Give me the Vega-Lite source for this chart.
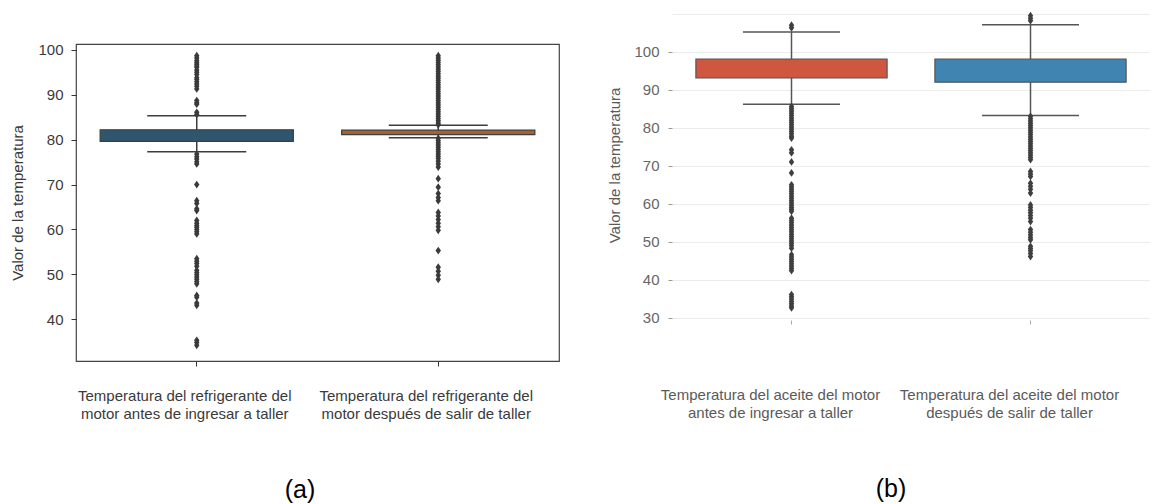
{
  "$schema": "https://vega.github.io/schema/vega-lite/v6.json",
  "background": "white",
  "padding": {"left": 10, "top": 10, "right": 0, "bottom": 0},
  "autosize": {"type": "pad"},
  "spacing": 47,
  "resolve": {"scale": {"color": "independent"}},
  "config": {"font": "Liberation Sans", "view": {"stroke": null}},
  "datasets": {
    "boxA": [
      {"cat": "Temperatura del refrigerante del|motor antes de ingresar a taller", "q1": 79.6, "q3": 82.2, "lo": 77.3, "hi": 85.3},
      {"cat": "Temperatura del refrigerante del|motor después de salir de taller", "q1": 81.1, "q3": 82.1, "lo": 80.4, "hi": 83.2}
    ],
    "outA": [
      {"cat": "Temperatura del refrigerante del|motor antes de ingresar a taller", "value": 98.7},
      {"cat": "Temperatura del refrigerante del|motor antes de ingresar a taller", "value": 98.2},
      {"cat": "Temperatura del refrigerante del|motor antes de ingresar a taller", "value": 97.6},
      {"cat": "Temperatura del refrigerante del|motor antes de ingresar a taller", "value": 97.2},
      {"cat": "Temperatura del refrigerante del|motor antes de ingresar a taller", "value": 96.8},
      {"cat": "Temperatura del refrigerante del|motor antes de ingresar a taller", "value": 96.4},
      {"cat": "Temperatura del refrigerante del|motor antes de ingresar a taller", "value": 96.1},
      {"cat": "Temperatura del refrigerante del|motor antes de ingresar a taller", "value": 95.5},
      {"cat": "Temperatura del refrigerante del|motor antes de ingresar a taller", "value": 95.0},
      {"cat": "Temperatura del refrigerante del|motor antes de ingresar a taller", "value": 94.5},
      {"cat": "Temperatura del refrigerante del|motor antes de ingresar a taller", "value": 93.8},
      {"cat": "Temperatura del refrigerante del|motor antes de ingresar a taller", "value": 93.4},
      {"cat": "Temperatura del refrigerante del|motor antes de ingresar a taller", "value": 92.9},
      {"cat": "Temperatura del refrigerante del|motor antes de ingresar a taller", "value": 92.4},
      {"cat": "Temperatura del refrigerante del|motor antes de ingresar a taller", "value": 91.9},
      {"cat": "Temperatura del refrigerante del|motor antes de ingresar a taller", "value": 91.3},
      {"cat": "Temperatura del refrigerante del|motor antes de ingresar a taller", "value": 88.7},
      {"cat": "Temperatura del refrigerante del|motor antes de ingresar a taller", "value": 88.2},
      {"cat": "Temperatura del refrigerante del|motor antes de ingresar a taller", "value": 87.9},
      {"cat": "Temperatura del refrigerante del|motor antes de ingresar a taller", "value": 86.1},
      {"cat": "Temperatura del refrigerante del|motor antes de ingresar a taller", "value": 85.6},
      {"cat": "Temperatura del refrigerante del|motor antes de ingresar a taller", "value": 76.8},
      {"cat": "Temperatura del refrigerante del|motor antes de ingresar a taller", "value": 76.2},
      {"cat": "Temperatura del refrigerante del|motor antes de ingresar a taller", "value": 75.7},
      {"cat": "Temperatura del refrigerante del|motor antes de ingresar a taller", "value": 75.1},
      {"cat": "Temperatura del refrigerante del|motor antes de ingresar a taller", "value": 74.6},
      {"cat": "Temperatura del refrigerante del|motor antes de ingresar a taller", "value": 70.0},
      {"cat": "Temperatura del refrigerante del|motor antes de ingresar a taller", "value": 66.4},
      {"cat": "Temperatura del refrigerante del|motor antes de ingresar a taller", "value": 65.8},
      {"cat": "Temperatura del refrigerante del|motor antes de ingresar a taller", "value": 64.6},
      {"cat": "Temperatura del refrigerante del|motor antes de ingresar a taller", "value": 64.2},
      {"cat": "Temperatura del refrigerante del|motor antes de ingresar a taller", "value": 62.0},
      {"cat": "Temperatura del refrigerante del|motor antes de ingresar a taller", "value": 61.4},
      {"cat": "Temperatura del refrigerante del|motor antes de ingresar a taller", "value": 60.9},
      {"cat": "Temperatura del refrigerante del|motor antes de ingresar a taller", "value": 60.5},
      {"cat": "Temperatura del refrigerante del|motor antes de ingresar a taller", "value": 60.0},
      {"cat": "Temperatura del refrigerante del|motor antes de ingresar a taller", "value": 59.5},
      {"cat": "Temperatura del refrigerante del|motor antes de ingresar a taller", "value": 59.0},
      {"cat": "Temperatura del refrigerante del|motor antes de ingresar a taller", "value": 53.5},
      {"cat": "Temperatura del refrigerante del|motor antes de ingresar a taller", "value": 52.9},
      {"cat": "Temperatura del refrigerante del|motor antes de ingresar a taller", "value": 52.4},
      {"cat": "Temperatura del refrigerante del|motor antes de ingresar a taller", "value": 51.8},
      {"cat": "Temperatura del refrigerante del|motor antes de ingresar a taller", "value": 50.9},
      {"cat": "Temperatura del refrigerante del|motor antes de ingresar a taller", "value": 50.4},
      {"cat": "Temperatura del refrigerante del|motor antes de ingresar a taller", "value": 49.9},
      {"cat": "Temperatura del refrigerante del|motor antes de ingresar a taller", "value": 49.4},
      {"cat": "Temperatura del refrigerante del|motor antes de ingresar a taller", "value": 48.9},
      {"cat": "Temperatura del refrigerante del|motor antes de ingresar a taller", "value": 48.4},
      {"cat": "Temperatura del refrigerante del|motor antes de ingresar a taller", "value": 47.9},
      {"cat": "Temperatura del refrigerante del|motor antes de ingresar a taller", "value": 45.3},
      {"cat": "Temperatura del refrigerante del|motor antes de ingresar a taller", "value": 44.9},
      {"cat": "Temperatura del refrigerante del|motor antes de ingresar a taller", "value": 43.6},
      {"cat": "Temperatura del refrigerante del|motor antes de ingresar a taller", "value": 43.1},
      {"cat": "Temperatura del refrigerante del|motor antes de ingresar a taller", "value": 35.3},
      {"cat": "Temperatura del refrigerante del|motor antes de ingresar a taller", "value": 34.8},
      {"cat": "Temperatura del refrigerante del|motor antes de ingresar a taller", "value": 34.2},
      {"cat": "Temperatura del refrigerante del|motor después de salir de taller", "value": 98.7},
      {"cat": "Temperatura del refrigerante del|motor después de salir de taller", "value": 98.2},
      {"cat": "Temperatura del refrigerante del|motor después de salir de taller", "value": 97.7},
      {"cat": "Temperatura del refrigerante del|motor después de salir de taller", "value": 97.2},
      {"cat": "Temperatura del refrigerante del|motor después de salir de taller", "value": 96.7},
      {"cat": "Temperatura del refrigerante del|motor después de salir de taller", "value": 96.2},
      {"cat": "Temperatura del refrigerante del|motor después de salir de taller", "value": 95.7},
      {"cat": "Temperatura del refrigerante del|motor después de salir de taller", "value": 95.2},
      {"cat": "Temperatura del refrigerante del|motor después de salir de taller", "value": 94.7},
      {"cat": "Temperatura del refrigerante del|motor después de salir de taller", "value": 94.2},
      {"cat": "Temperatura del refrigerante del|motor después de salir de taller", "value": 93.7},
      {"cat": "Temperatura del refrigerante del|motor después de salir de taller", "value": 93.2},
      {"cat": "Temperatura del refrigerante del|motor después de salir de taller", "value": 92.7},
      {"cat": "Temperatura del refrigerante del|motor después de salir de taller", "value": 92.2},
      {"cat": "Temperatura del refrigerante del|motor después de salir de taller", "value": 91.7},
      {"cat": "Temperatura del refrigerante del|motor después de salir de taller", "value": 91.2},
      {"cat": "Temperatura del refrigerante del|motor después de salir de taller", "value": 90.7},
      {"cat": "Temperatura del refrigerante del|motor después de salir de taller", "value": 90.2},
      {"cat": "Temperatura del refrigerante del|motor después de salir de taller", "value": 89.7},
      {"cat": "Temperatura del refrigerante del|motor después de salir de taller", "value": 89.2},
      {"cat": "Temperatura del refrigerante del|motor después de salir de taller", "value": 88.7},
      {"cat": "Temperatura del refrigerante del|motor después de salir de taller", "value": 88.2},
      {"cat": "Temperatura del refrigerante del|motor después de salir de taller", "value": 87.7},
      {"cat": "Temperatura del refrigerante del|motor después de salir de taller", "value": 87.2},
      {"cat": "Temperatura del refrigerante del|motor después de salir de taller", "value": 86.7},
      {"cat": "Temperatura del refrigerante del|motor después de salir de taller", "value": 86.2},
      {"cat": "Temperatura del refrigerante del|motor después de salir de taller", "value": 85.7},
      {"cat": "Temperatura del refrigerante del|motor después de salir de taller", "value": 85.2},
      {"cat": "Temperatura del refrigerante del|motor después de salir de taller", "value": 84.7},
      {"cat": "Temperatura del refrigerante del|motor después de salir de taller", "value": 84.2},
      {"cat": "Temperatura del refrigerante del|motor después de salir de taller", "value": 83.7},
      {"cat": "Temperatura del refrigerante del|motor después de salir de taller", "value": 83.3},
      {"cat": "Temperatura del refrigerante del|motor después de salir de taller", "value": 80.3},
      {"cat": "Temperatura del refrigerante del|motor después de salir de taller", "value": 79.8},
      {"cat": "Temperatura del refrigerante del|motor después de salir de taller", "value": 79.3},
      {"cat": "Temperatura del refrigerante del|motor después de salir de taller", "value": 78.8},
      {"cat": "Temperatura del refrigerante del|motor después de salir de taller", "value": 78.3},
      {"cat": "Temperatura del refrigerante del|motor después de salir de taller", "value": 77.8},
      {"cat": "Temperatura del refrigerante del|motor después de salir de taller", "value": 77.3},
      {"cat": "Temperatura del refrigerante del|motor después de salir de taller", "value": 76.8},
      {"cat": "Temperatura del refrigerante del|motor después de salir de taller", "value": 76.3},
      {"cat": "Temperatura del refrigerante del|motor después de salir de taller", "value": 75.8},
      {"cat": "Temperatura del refrigerante del|motor después de salir de taller", "value": 75.2},
      {"cat": "Temperatura del refrigerante del|motor después de salir de taller", "value": 74.6},
      {"cat": "Temperatura del refrigerante del|motor después de salir de taller", "value": 73.9},
      {"cat": "Temperatura del refrigerante del|motor después de salir de taller", "value": 71.3},
      {"cat": "Temperatura del refrigerante del|motor después de salir de taller", "value": 69.4},
      {"cat": "Temperatura del refrigerante del|motor después de salir de taller", "value": 68.0},
      {"cat": "Temperatura del refrigerante del|motor después de salir de taller", "value": 67.1},
      {"cat": "Temperatura del refrigerante del|motor después de salir de taller", "value": 66.4},
      {"cat": "Temperatura del refrigerante del|motor después de salir de taller", "value": 63.8},
      {"cat": "Temperatura del refrigerante del|motor después de salir de taller", "value": 63.0},
      {"cat": "Temperatura del refrigerante del|motor después de salir de taller", "value": 62.2},
      {"cat": "Temperatura del refrigerante del|motor después de salir de taller", "value": 61.4},
      {"cat": "Temperatura del refrigerante del|motor después de salir de taller", "value": 60.6},
      {"cat": "Temperatura del refrigerante del|motor después de salir de taller", "value": 59.8},
      {"cat": "Temperatura del refrigerante del|motor después de salir de taller", "value": 55.3},
      {"cat": "Temperatura del refrigerante del|motor después de salir de taller", "value": 51.6},
      {"cat": "Temperatura del refrigerante del|motor después de salir de taller", "value": 50.7},
      {"cat": "Temperatura del refrigerante del|motor después de salir de taller", "value": 49.8},
      {"cat": "Temperatura del refrigerante del|motor después de salir de taller", "value": 48.9}
    ],
    "boxB": [
      {"cat": "Temperatura del aceite del motor|antes de ingresar a taller", "q1": 93.1, "q3": 98.1, "lo": 86.2, "hi": 105.2},
      {"cat": "Temperatura del aceite del motor|después de salir de taller", "q1": 92.0, "q3": 98.1, "lo": 83.2, "hi": 107.1}
    ],
    "outB": [
      {"cat": "Temperatura del aceite del motor|antes de ingresar a taller", "value": 107.0},
      {"cat": "Temperatura del aceite del motor|antes de ingresar a taller", "value": 106.3},
      {"cat": "Temperatura del aceite del motor|antes de ingresar a taller", "value": 85.6},
      {"cat": "Temperatura del aceite del motor|antes de ingresar a taller", "value": 85.0},
      {"cat": "Temperatura del aceite del motor|antes de ingresar a taller", "value": 84.4},
      {"cat": "Temperatura del aceite del motor|antes de ingresar a taller", "value": 83.8},
      {"cat": "Temperatura del aceite del motor|antes de ingresar a taller", "value": 83.2},
      {"cat": "Temperatura del aceite del motor|antes de ingresar a taller", "value": 82.6},
      {"cat": "Temperatura del aceite del motor|antes de ingresar a taller", "value": 82.0},
      {"cat": "Temperatura del aceite del motor|antes de ingresar a taller", "value": 81.4},
      {"cat": "Temperatura del aceite del motor|antes de ingresar a taller", "value": 80.8},
      {"cat": "Temperatura del aceite del motor|antes de ingresar a taller", "value": 80.2},
      {"cat": "Temperatura del aceite del motor|antes de ingresar a taller", "value": 79.6},
      {"cat": "Temperatura del aceite del motor|antes de ingresar a taller", "value": 79.0},
      {"cat": "Temperatura del aceite del motor|antes de ingresar a taller", "value": 78.4},
      {"cat": "Temperatura del aceite del motor|antes de ingresar a taller", "value": 77.8},
      {"cat": "Temperatura del aceite del motor|antes de ingresar a taller", "value": 77.3},
      {"cat": "Temperatura del aceite del motor|antes de ingresar a taller", "value": 74.2},
      {"cat": "Temperatura del aceite del motor|antes de ingresar a taller", "value": 73.4},
      {"cat": "Temperatura del aceite del motor|antes de ingresar a taller", "value": 71.0},
      {"cat": "Temperatura del aceite del motor|antes de ingresar a taller", "value": 68.1},
      {"cat": "Temperatura del aceite del motor|antes de ingresar a taller", "value": 65.0},
      {"cat": "Temperatura del aceite del motor|antes de ingresar a taller", "value": 64.4},
      {"cat": "Temperatura del aceite del motor|antes de ingresar a taller", "value": 63.8},
      {"cat": "Temperatura del aceite del motor|antes de ingresar a taller", "value": 63.2},
      {"cat": "Temperatura del aceite del motor|antes de ingresar a taller", "value": 62.6},
      {"cat": "Temperatura del aceite del motor|antes de ingresar a taller", "value": 62.0},
      {"cat": "Temperatura del aceite del motor|antes de ingresar a taller", "value": 61.4},
      {"cat": "Temperatura del aceite del motor|antes de ingresar a taller", "value": 60.8},
      {"cat": "Temperatura del aceite del motor|antes de ingresar a taller", "value": 60.2},
      {"cat": "Temperatura del aceite del motor|antes de ingresar a taller", "value": 59.6},
      {"cat": "Temperatura del aceite del motor|antes de ingresar a taller", "value": 59.0},
      {"cat": "Temperatura del aceite del motor|antes de ingresar a taller", "value": 58.5},
      {"cat": "Temperatura del aceite del motor|antes de ingresar a taller", "value": 58.0},
      {"cat": "Temperatura del aceite del motor|antes de ingresar a taller", "value": 56.2},
      {"cat": "Temperatura del aceite del motor|antes de ingresar a taller", "value": 55.6},
      {"cat": "Temperatura del aceite del motor|antes de ingresar a taller", "value": 55.0},
      {"cat": "Temperatura del aceite del motor|antes de ingresar a taller", "value": 54.4},
      {"cat": "Temperatura del aceite del motor|antes de ingresar a taller", "value": 53.8},
      {"cat": "Temperatura del aceite del motor|antes de ingresar a taller", "value": 53.2},
      {"cat": "Temperatura del aceite del motor|antes de ingresar a taller", "value": 52.6},
      {"cat": "Temperatura del aceite del motor|antes de ingresar a taller", "value": 52.0},
      {"cat": "Temperatura del aceite del motor|antes de ingresar a taller", "value": 51.4},
      {"cat": "Temperatura del aceite del motor|antes de ingresar a taller", "value": 50.8},
      {"cat": "Temperatura del aceite del motor|antes de ingresar a taller", "value": 50.2},
      {"cat": "Temperatura del aceite del motor|antes de ingresar a taller", "value": 49.6},
      {"cat": "Temperatura del aceite del motor|antes de ingresar a taller", "value": 49.0},
      {"cat": "Temperatura del aceite del motor|antes de ingresar a taller", "value": 48.3},
      {"cat": "Temperatura del aceite del motor|antes de ingresar a taller", "value": 46.6},
      {"cat": "Temperatura del aceite del motor|antes de ingresar a taller", "value": 46.0},
      {"cat": "Temperatura del aceite del motor|antes de ingresar a taller", "value": 45.4},
      {"cat": "Temperatura del aceite del motor|antes de ingresar a taller", "value": 44.8},
      {"cat": "Temperatura del aceite del motor|antes de ingresar a taller", "value": 44.2},
      {"cat": "Temperatura del aceite del motor|antes de ingresar a taller", "value": 43.6},
      {"cat": "Temperatura del aceite del motor|antes de ingresar a taller", "value": 43.0},
      {"cat": "Temperatura del aceite del motor|antes de ingresar a taller", "value": 42.4},
      {"cat": "Temperatura del aceite del motor|antes de ingresar a taller", "value": 36.1},
      {"cat": "Temperatura del aceite del motor|antes de ingresar a taller", "value": 35.5},
      {"cat": "Temperatura del aceite del motor|antes de ingresar a taller", "value": 34.9},
      {"cat": "Temperatura del aceite del motor|antes de ingresar a taller", "value": 34.3},
      {"cat": "Temperatura del aceite del motor|antes de ingresar a taller", "value": 33.7},
      {"cat": "Temperatura del aceite del motor|antes de ingresar a taller", "value": 33.1},
      {"cat": "Temperatura del aceite del motor|antes de ingresar a taller", "value": 32.6},
      {"cat": "Temperatura del aceite del motor|después de salir de taller", "value": 109.5},
      {"cat": "Temperatura del aceite del motor|después de salir de taller", "value": 108.8},
      {"cat": "Temperatura del aceite del motor|después de salir de taller", "value": 108.2},
      {"cat": "Temperatura del aceite del motor|después de salir de taller", "value": 83.0},
      {"cat": "Temperatura del aceite del motor|después de salir de taller", "value": 82.4},
      {"cat": "Temperatura del aceite del motor|después de salir de taller", "value": 81.8},
      {"cat": "Temperatura del aceite del motor|después de salir de taller", "value": 81.2},
      {"cat": "Temperatura del aceite del motor|después de salir de taller", "value": 80.6},
      {"cat": "Temperatura del aceite del motor|después de salir de taller", "value": 80.0},
      {"cat": "Temperatura del aceite del motor|después de salir de taller", "value": 79.4},
      {"cat": "Temperatura del aceite del motor|después de salir de taller", "value": 78.8},
      {"cat": "Temperatura del aceite del motor|después de salir de taller", "value": 78.2},
      {"cat": "Temperatura del aceite del motor|después de salir de taller", "value": 77.6},
      {"cat": "Temperatura del aceite del motor|después de salir de taller", "value": 77.0},
      {"cat": "Temperatura del aceite del motor|después de salir de taller", "value": 76.4},
      {"cat": "Temperatura del aceite del motor|después de salir de taller", "value": 75.8},
      {"cat": "Temperatura del aceite del motor|después de salir de taller", "value": 75.2},
      {"cat": "Temperatura del aceite del motor|después de salir de taller", "value": 74.6},
      {"cat": "Temperatura del aceite del motor|después de salir de taller", "value": 74.0},
      {"cat": "Temperatura del aceite del motor|después de salir de taller", "value": 73.4},
      {"cat": "Temperatura del aceite del motor|después de salir de taller", "value": 72.8},
      {"cat": "Temperatura del aceite del motor|después de salir de taller", "value": 72.2},
      {"cat": "Temperatura del aceite del motor|después de salir de taller", "value": 71.6},
      {"cat": "Temperatura del aceite del motor|después de salir de taller", "value": 68.5},
      {"cat": "Temperatura del aceite del motor|después de salir de taller", "value": 67.8},
      {"cat": "Temperatura del aceite del motor|después de salir de taller", "value": 67.2},
      {"cat": "Temperatura del aceite del motor|después de salir de taller", "value": 65.4},
      {"cat": "Temperatura del aceite del motor|después de salir de taller", "value": 64.6},
      {"cat": "Temperatura del aceite del motor|después de salir de taller", "value": 63.8},
      {"cat": "Temperatura del aceite del motor|después de salir de taller", "value": 62.8},
      {"cat": "Temperatura del aceite del motor|después de salir de taller", "value": 59.7},
      {"cat": "Temperatura del aceite del motor|después de salir de taller", "value": 59.0},
      {"cat": "Temperatura del aceite del motor|después de salir de taller", "value": 58.3},
      {"cat": "Temperatura del aceite del motor|después de salir de taller", "value": 57.6},
      {"cat": "Temperatura del aceite del motor|después de salir de taller", "value": 56.9},
      {"cat": "Temperatura del aceite del motor|después de salir de taller", "value": 56.2},
      {"cat": "Temperatura del aceite del motor|después de salir de taller", "value": 55.3},
      {"cat": "Temperatura del aceite del motor|después de salir de taller", "value": 53.2},
      {"cat": "Temperatura del aceite del motor|después de salir de taller", "value": 52.5},
      {"cat": "Temperatura del aceite del motor|después de salir de taller", "value": 51.8},
      {"cat": "Temperatura del aceite del motor|después de salir de taller", "value": 51.1},
      {"cat": "Temperatura del aceite del motor|después de salir de taller", "value": 50.5},
      {"cat": "Temperatura del aceite del motor|después de salir de taller", "value": 48.8},
      {"cat": "Temperatura del aceite del motor|después de salir de taller", "value": 48.2},
      {"cat": "Temperatura del aceite del motor|después de salir de taller", "value": 47.6},
      {"cat": "Temperatura del aceite del motor|después de salir de taller", "value": 46.9},
      {"cat": "Temperatura del aceite del motor|después de salir de taller", "value": 46.1}
    ]
  },
  "hconcat": [
    {
      "spacing": 31,
      "vconcat": [
        {
          "width": 1,
          "height": 1,
          "data": {"values": []},
          "mark": "point"
        },
        {
          "width": 483,
          "height": 317,
          "view": {"stroke": "#444444", "strokeWidth": 1.2},
          "encoding": {
            "x": {
              "field": "cat", "type": "nominal", "sort": null,
              "scale": {"paddingInner": 0, "paddingOuter": 0},
              "axis": {
                "title": "(a)", "titleFontSize": 25, "titleFontWeight": "normal", "titleColor": "#000000",
                "titleX": 223.5, "titleY": 128, "titleBaseline": "middle", "titleAlign": "center",
                "labelExpr": "split(datum.label, '|')", "labelAngle": 0, "labelFontSize": 15,
                "labelColor": "#3a3a3a", "labelLineHeight": 18, "labelPadding": 22, "labelLimit": 400,
                "labelOffset": -12,
                "tickSize": 5, "tickColor": "#333333", "domain": false
              }
            },
            "y": {
              "type": "quantitative",
              "title": "Valor de la temperatura",
              "scale": {"domain": [30.7, 101.3], "nice": false, "zero": false},
              "axis": {
                "titleFontSize": 15, "titleFontWeight": "normal",
                "titleColor": "#3a3a3a", "titlePadding": 12,
                "values": [40, 50, 60, 70, 80, 90, 100], "labelFontSize": 15, "labelColor": "#3a3a3a",
                "labelPadding": 8, "tickSize": 5, "tickColor": "#333333", "domain": false, "grid": false
              }
            }
          },
          "layer": [
            {
              "data": {"name": "boxA"},
              "mark": {"type": "rule", "color": "#3d3d3d", "strokeWidth": 1.5},
              "encoding": {"y": {"field": "lo"}, "y2": {"field": "hi"}}
            },
            {
              "data": {"name": "boxA"},
              "mark": {"type": "bar", "width": {"band": 0.8}, "stroke": "#3d3d3d", "strokeWidth": 1.2},
              "encoding": {
                "y": {"field": "q1"},
                "y2": {"field": "q3"},
                "color": {"field": "cat", "type": "nominal", "sort": null, "scale": {"range": ["#30566f", "#a8612b"]}, "legend": null}
              }
            },
            {
              "data": {"name": "boxA"},
              "mark": {"type": "tick", "size": 99, "thickness": 1.5, "color": "#3d3d3d", "opacity": 1},
              "encoding": {"y": {"field": "lo"}}
            },
            {
              "data": {"name": "boxA"},
              "mark": {"type": "tick", "size": 99, "thickness": 1.5, "color": "#3d3d3d", "opacity": 1},
              "encoding": {"y": {"field": "hi"}}
            },
            {
              "data": {"name": "outA"},
              "mark": {"type": "point", "shape": "M0,-1L0.7,0L0,1L-0.7,0Z", "filled": true, "size": 60, "color": "#3a3a3a", "opacity": 1},
              "encoding": {"y": {"field": "value"}}
            }
          ]
        }
      ]
    },
    {
      "width": 478,
      "height": 310,
      "encoding": {
        "x": {
          "field": "cat", "type": "nominal", "sort": null,
          "scale": {"paddingInner": 0, "paddingOuter": 0},
          "axis": {
            "title": "(b)", "titleFontSize": 25, "titleFontWeight": "normal", "titleColor": "#000000",
            "titleX": 218.5, "titleY": 168, "titleBaseline": "middle", "titleAlign": "center",
            "labelExpr": "split(datum.label, '|')", "labelAngle": 0, "labelFontSize": 15,
            "labelColor": "#5a5a5a", "labelLineHeight": 18, "labelPadding": 63, "labelLimit": 400,
            "labelOffset": -21,
            "tickSize": 4, "tickColor": "#aaaaaa", "domain": false
          }
        },
        "y": {
          "type": "quantitative",
          "title": "Valor de la temperatura",
          "scale": {"domain": [29.4, 111], "nice": false, "zero": false},
          "axis": {
            "titleFontSize": 15, "titleFontWeight": "normal",
            "titleColor": "#5a5a5a", "titlePadding": 11,
            "values": [30, 40, 50, 60, 70, 80, 90, 100, 110],
            "labelExpr": "datum.value == 110 ? '' : datum.label",
            "labelFontSize": 15, "labelColor": "#666666",
            "labelPadding": 9, "tickSize": 4, "tickColor": "#999999",
            "tickOpacity": {"condition": {"test": "datum.value == 110", "value": 0}, "value": 1},
            "domain": false, "grid": true, "gridColor": "#ececec", "gridWidth": 1
          }
        }
      },
      "layer": [
        {
          "data": {"name": "boxB"},
          "mark": {"type": "rule", "color": "#555555", "strokeWidth": 1.5},
          "encoding": {"y": {"field": "lo"}, "y2": {"field": "hi"}}
        },
        {
          "data": {"name": "boxB"},
          "mark": {"type": "bar", "width": {"band": 0.8}, "stroke": "#555555", "strokeWidth": 1.2},
          "encoding": {
            "y": {"field": "q1"},
            "y2": {"field": "q3"},
            "color": {"field": "cat", "type": "nominal", "sort": null, "scale": {"range": ["#d0573f", "#4085b1"]}, "legend": null}
          }
        },
        {
          "data": {"name": "boxB"},
          "mark": {"type": "tick", "size": 97, "thickness": 1.5, "color": "#555555", "opacity": 1},
          "encoding": {"y": {"field": "lo"}}
        },
        {
          "data": {"name": "boxB"},
          "mark": {"type": "tick", "size": 97, "thickness": 1.5, "color": "#555555", "opacity": 1},
          "encoding": {"y": {"field": "hi"}}
        },
        {
          "data": {"name": "outB"},
          "mark": {"type": "point", "shape": "M0,-1L0.7,0L0,1L-0.7,0Z", "filled": true, "size": 60, "color": "#3f3f3f", "opacity": 1},
          "encoding": {"y": {"field": "value"}}
        }
      ]
    }
  ]
}
